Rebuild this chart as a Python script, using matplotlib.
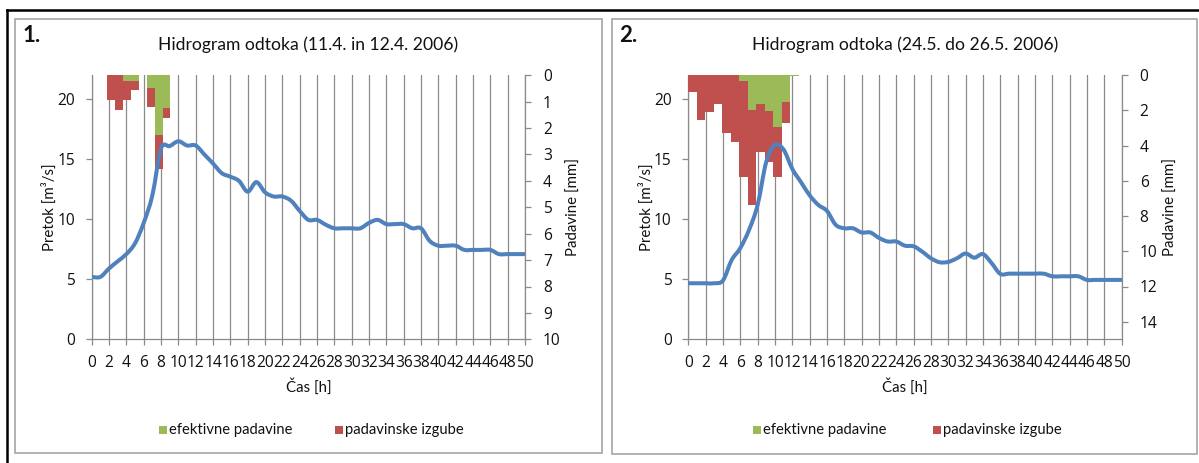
import numpy as np
import matplotlib
matplotlib.use("Agg")
import matplotlib.pyplot as plt
from matplotlib.path import Path
from matplotlib.patches import PathPatch, Rectangle
from matplotlib.lines import Line2D

# ---------------------------------------------------------------- data
hours = list(range(51))

flow_1 = [5.2, 5.2, 5.9, 6.5, 7.1, 8.0, 9.7, 12.0, 15.9, 16.1,
          16.5, 16.15, 16.15, 15.4, 14.65, 13.85, 13.55, 13.2, 12.3, 13.1,
          12.25, 11.9, 11.9, 11.55, 10.7, 9.95, 9.95, 9.55, 9.25, 9.25,
          9.25, 9.25, 9.7, 9.95, 9.6, 9.6, 9.6, 9.25, 9.25, 8.2,
          7.8, 7.8, 7.8, 7.45, 7.45, 7.45, 7.45, 7.1, 7.1, 7.1, 7.1]

flow_2 = [4.67, 4.67, 4.67, 4.67, 4.9, 6.6, 7.6, 9.1, 11.2, 14.8,
          16.2, 15.8, 14.2, 13.1, 12.0, 11.2, 10.7, 9.55, 9.25, 9.25,
          8.9, 8.9, 8.45, 8.15, 8.15, 7.8, 7.75, 7.3, 6.75, 6.42,
          6.45, 6.75, 7.15, 6.8, 7.1, 6.35, 5.45, 5.47, 5.47, 5.47,
          5.47, 5.47, 5.25, 5.25, 5.25, 5.25, 4.95, 4.95, 4.95, 4.95, 4.95]

# rainfall per interval [mm]: effective part and losses
rain_count_1 = 55
effective_1 = [0, 0, 0, 0, 0.2, 0.2, 0, 0.49, 2.26, 1.25]
losses_1 = [0, 0, 0.95, 1.30, 0.75, 0.35, 0, 0.70, 1.30, 0.38]

rain_count_2 = 51
effective_2 = [0, 0, 0, 0, 0, 0, 0.35, 2.0, 1.63, 2.05, 2.92, 1.5, 0.03]
losses_2 = [0.95, 2.52, 2.09, 1.63, 3.28, 3.79, 5.45, 5.39, 2.73, 2.90, 2.88, 1.21, 0.03]

flow_ticks = [0, 5, 10, 15, 20]
rain_ticks_1 = list(range(0, 11))
rain_ticks_2 = list(range(0, 15, 2))
hour_ticks = list(range(0, 51, 2))

title_1 = "Hidrogram odtoka (11.4. in 12.4. 2006)"
title_2 = "Hidrogram odtoka (24.5. do 26.5. 2006)"
legend_labels = ["efektivne padavine", "padavinske izgube"]

# ---------------------------------------------------------------- style
FONT = "Lato"
NUM_FONT = "Open Sans"
plt.rcParams["font.family"] = [FONT, "DejaVu Sans"]
GREEN = "#9BBB59"
RED = "#C0504D"
BLUE = "#4F81BD"
GRID = "#8a8a8a"
FRAME = "#a6a6a6"
TXT = "#111111"
TICK_SIZE = 11.2

W, H = 1199, 463
fig = plt.figure(figsize=(W / 100, H / 100), dpi=100)


def fx(px):
    return px / W


def fy(py):
    return 1 - py / H


def smooth_path(x, y):
    """Cubic Bezier path through all points (Catmull-Rom tangents)."""
    pts = np.column_stack([x, y]).astype(float)
    n = len(pts)
    verts = [pts[0]]
    codes = [Path.MOVETO]
    for i in range(n - 1):
        p0 = pts[i - 1] if i > 0 else pts[i]
        p1, p2 = pts[i], pts[i + 1]
        p3 = pts[i + 2] if i + 2 < n else pts[i + 1]
        verts += [p1 + (p2 - p0) / 6, p2 - (p3 - p1) / 6, p2]
        codes += [Path.CURVE4] * 3
    return Path(verts, codes)


def panel(left_px, number, title, flow, eff, loss, count, rain_max, rain_ticks,
          frame_box, legend_x):
    top_px, bottom_px, width_px = 75.3, 339.3, 433.3
    ax = fig.add_axes([fx(left_px), fy(bottom_px), width_px / W,
                       (bottom_px - top_px) / H])
    ax.set_xlim(0, 50)
    ax.set_ylim(0, 22)
    ax.set_xticks(hour_ticks)
    ax.set_xticklabels([str(h) for h in hour_ticks])
    ax.set_yticks(flow_ticks)
    ax.grid(axis="x", color=GRID, linewidth=0.9)
    ax.set_axisbelow(True)
    for s in ("top", "right"):
        ax.spines[s].set_visible(False)
    for s in ("left", "bottom"):
        ax.spines[s].set_color(GRID)
        ax.spines[s].set_linewidth(0.9)
    tick_style = dict(direction="out", length=4, width=0.9, color=GRID,
                      labelsize=TICK_SIZE, labelcolor=TXT,
                      labelfontfamily=NUM_FONT)
    ax.tick_params(axis="x", pad=7, **tick_style)
    ax.tick_params(axis="y", pad=8, **tick_style)

    ax2 = ax.twinx()
    ax2.set_ylim(rain_max, 0)
    ax2.set_yticks(rain_ticks)
    for s in ("top", "left", "bottom"):
        ax2.spines[s].set_visible(False)
    ax2.spines["right"].set_color(GRID)
    ax2.spines["right"].set_linewidth(0.9)
    ax2.tick_params(axis="y", pad=9, **tick_style)

    step = 50 / count
    lefts = [i * step for i in range(len(eff))]
    ax2.bar(lefts, eff, width=step, align="edge", color=GREEN, linewidth=0)
    ax2.bar(lefts, loss, width=step, bottom=eff, align="edge", color=RED,
            linewidth=0)

    line = PathPatch(smooth_path(hours, flow), transform=ax.transData,
                     facecolor="none", edgecolor=BLUE, linewidth=2.9,
                     capstyle="round", joinstyle="round")
    ax2.add_patch(line)
    line.set_clip_path(ax2.patch)

    cx = left_px + width_px / 2
    fig.text(fx(cx), fy(45), title, ha="center", va="center", fontsize=12.6,
             color=TXT)
    fig.text(fx(left_px - 69), fy(36), number, ha="left", va="center",
             fontsize=16, fontweight="bold", color=TXT)
    fig.text(fx(cx), fy(387), "Čas [h]", ha="center", va="center",
             fontsize=10.8, color=TXT)
    fig.text(fx(left_px - 42), fy(207), "Pretok [m³/s]", ha="center",
             va="center", rotation=90, fontsize=10.8, color=TXT)
    fig.text(fx(left_px + width_px + 49), fy(207), "Padavine [mm]",
             ha="center", va="center", rotation=90, fontsize=10.8, color=TXT)

    # legend
    for (lx, col, lab) in zip(legend_x, (GREEN, RED), legend_labels):
        fig.patches.append(Rectangle((fx(lx), fy(434)), 8 / W, 8 / H,
                                     transform=fig.transFigure, color=col,
                                     linewidth=0))
        fig.text(fx(lx + 10), fy(430), lab, ha="left", va="center",
                 fontsize=10.6, color=TXT)

    x0, y0, x1, y1 = frame_box
    fig.patches.append(Rectangle((fx(x0), fy(y1)), (x1 - x0) / W,
                                 (y1 - y0) / H, transform=fig.transFigure,
                                 fill=False, edgecolor=FRAME, linewidth=1.2))
    return ax, ax2


panel(91.7, "1.", title_1, flow_1, effective_1, losses_1, rain_count_1, 10,
      rain_ticks_1, (14.5, 19.3, 602, 453), (159, 335))
panel(688.3, "2.", title_2, flow_2, effective_2, losses_2, rain_count_2, 15,
      rain_ticks_2, (611.5, 19.3, 1197, 454), (753, 933))

# outer frame
fig.lines.append(Line2D([fx(6.5), fx(1199)], [fy(10), fy(10)],
                        transform=fig.transFigure, color="black", linewidth=1.8))
fig.lines.append(Line2D([fx(6.5), fx(6.5)], [fy(10), fy(463)],
                        transform=fig.transFigure, color="black", linewidth=1.8))

fig.savefig("out.png", dpi=100, facecolor="white")
